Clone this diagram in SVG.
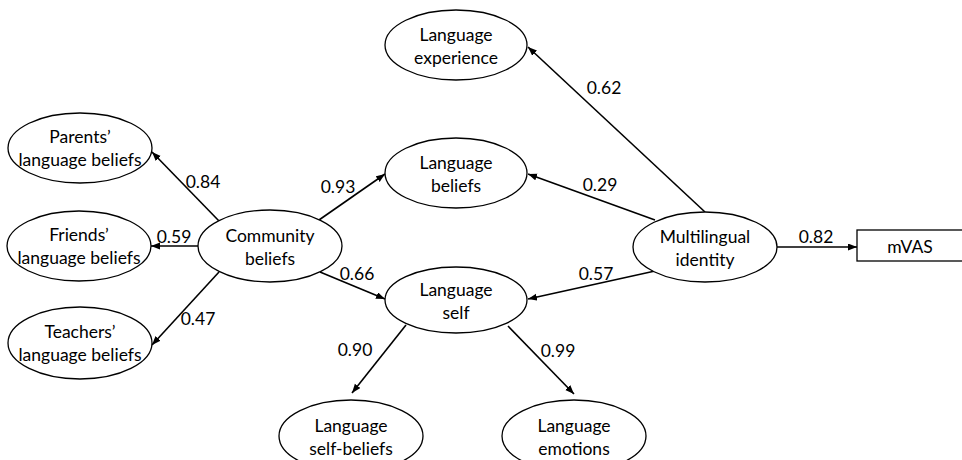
<svg xmlns="http://www.w3.org/2000/svg" width="962" height="460" viewBox="0 0 962 460">
<style>
.n ellipse, .n rect { fill: #fff; stroke: #000; stroke-width: 1.3; }
text { font-family: Lato, "Liberation Sans", sans-serif; font-size: 17.5px; fill: #000; text-anchor: middle; dominant-baseline: central; }
.e line { stroke: #000; stroke-width: 1.6; marker-end: url(#ah); }
</style>
<defs>
<marker id="ah" markerUnits="userSpaceOnUse" markerWidth="10" markerHeight="8" refX="9" refY="3.5" orient="auto">
<path d="M0,0 L9,3.5 L0,7 z" fill="#000"/>
</marker>
</defs>
<rect width="962" height="460" fill="#fff"/>
<g class="e" id="connectors">
<line x1="219" y1="221" x2="152" y2="152"/>
<line x1="198" y1="246" x2="151" y2="246"/>
<line x1="219" y1="272" x2="152" y2="345"/>
<line x1="319" y1="220" x2="385" y2="174"/>
<line x1="320" y1="272" x2="385" y2="299"/>
<line x1="705" y1="212" x2="528" y2="47"/>
<line x1="655" y1="220" x2="528" y2="174"/>
<line x1="655" y1="271" x2="528" y2="299"/>
<line x1="777" y1="247" x2="857" y2="247"/>
<line x1="406" y1="325" x2="352" y2="393"/>
<line x1="508" y1="326" x2="574" y2="394"/>
</g>
<g id="labels">
<text x="203" y="181">0.84</text>
<text x="174" y="236">0.59</text>
<text x="198" y="318">0.47</text>
<text x="338" y="186">0.93</text>
<text x="357" y="273">0.66</text>
<text x="355" y="349">0.90</text>
<text x="604" y="87">0.62</text>
<text x="600" y="184">0.29</text>
<text x="596" y="273">0.57</text>
<text x="558" y="350">0.99</text>
<text x="816" y="236">0.82</text>
</g>
<g class="n" id="parents"><ellipse cx="80" cy="148" rx="72" ry="35"/><text x="80" y="136">Parents’</text><text x="80" y="159">language beliefs</text></g>
<g class="n" id="friends"><ellipse cx="79" cy="246" rx="72" ry="35"/><text x="79" y="234">Friends’</text><text x="79" y="257">language beliefs</text></g>
<g class="n" id="teachers"><ellipse cx="80" cy="343" rx="72" ry="36"/><text x="80" y="331">Teachers’</text><text x="80" y="354">language beliefs</text></g>
<g class="n" id="community"><ellipse cx="270" cy="246" rx="72" ry="36"/><text x="270" y="235">Community</text><text x="270" y="258">beliefs</text></g>
<g class="n" id="experience"><ellipse cx="456" cy="45" rx="71" ry="35"/><text x="456" y="34">Language</text><text x="456" y="57">experience</text></g>
<g class="n" id="langbeliefs"><ellipse cx="456" cy="173" rx="71" ry="35"/><text x="456" y="162">Language</text><text x="456" y="185">beliefs</text></g>
<g class="n" id="langself"><ellipse cx="456" cy="300" rx="71" ry="33"/><text x="456" y="289">Language</text><text x="456" y="312">self</text></g>
<g class="n" id="multi"><ellipse cx="705" cy="247" rx="72" ry="35"/><text x="705" y="236">Multilingual</text><text x="705" y="259">identity</text></g>
<g class="n" id="mvas"><rect x="857" y="230" width="110" height="31"/><text x="910" y="246">mVAS</text></g>
<g class="n" id="selfbeliefs"><ellipse cx="351" cy="436" rx="72" ry="36"/><text x="351" y="425">Language</text><text x="351" y="448">self-beliefs</text></g>
<g class="n" id="emotions"><ellipse cx="574" cy="436" rx="72" ry="36"/><text x="574" y="425">Language</text><text x="574" y="448">emotions</text></g>
</svg>
